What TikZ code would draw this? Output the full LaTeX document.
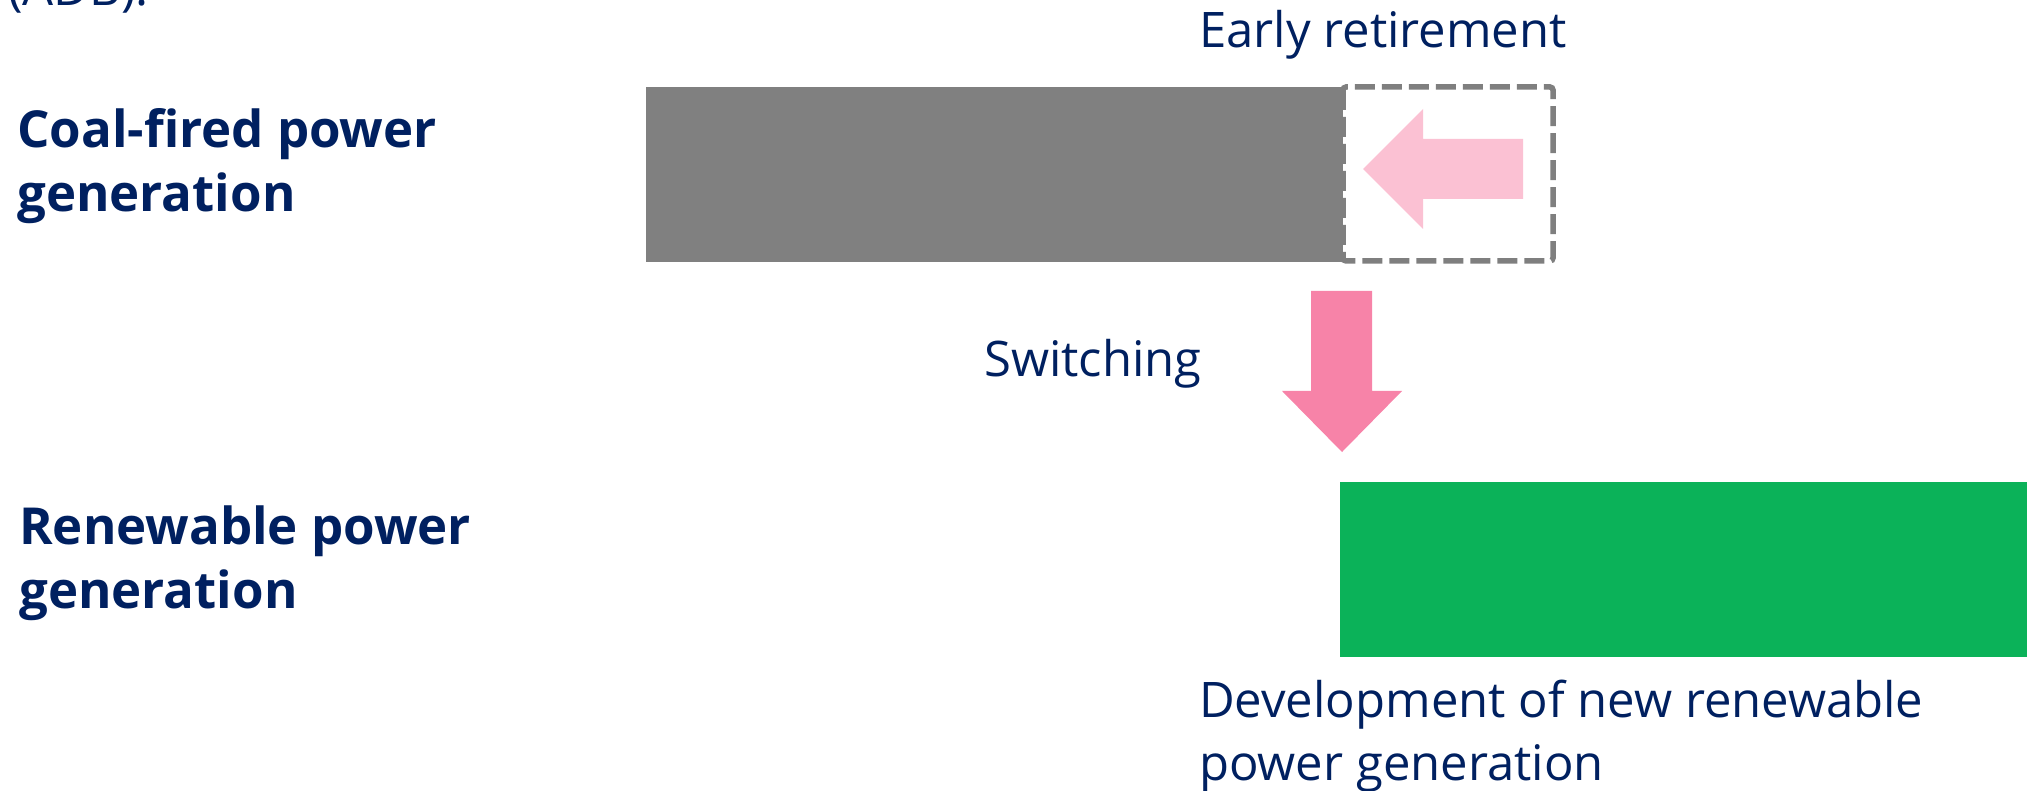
\documentclass[tikz,border=0pt]{standalone}
\usepackage{fontspec}
\setmainfont{Open Sans}
\definecolor{navy}{HTML}{002060}
\definecolor{coalgray}{HTML}{808080}
\definecolor{dashgray}{HTML}{7F7F7F}
\definecolor{lightpink}{HTML}{FBC1D3}
\definecolor{midpink}{HTML}{F783A8}
\definecolor{renewgreen}{HTML}{0BB259}
\tikzset{
  regtext/.style={text=navy, inner sep=0pt, align=left, font=\fontsize{49}{63}\selectfont},
  boldtext/.style={text=navy, inner sep=0pt, align=left, font=\fontsize{51}{64}\selectfont\bfseries},
  bar/.style={draw=none, inner sep=0pt, anchor=north west},
  dashbox/.style={draw=dashgray, fill=white, line width=5.5pt, dash pattern=on 20pt off 7pt, rounded corners=3pt},
}
\begin{document}
\begin{tikzpicture}[x=1pt, y=-1pt]
\useasboundingbox (0,0) rectangle (2027,791);
% partially visible text at top
\node[regtext, anchor=base west] (adb) at (8,6) {(ADB).};
% bars
\node[bar, fill=coalgray, minimum width=697pt, minimum height=175pt] (coal) at (646,87) {};
\draw[dashbox] (1343,87) rectangle (1553,261);
\node[bar, fill=renewgreen, minimum width=687pt, minimum height=175pt] (renew) at (1340,482) {};
% early retirement arrow (left)
\fill[lightpink] (1363,169) -- (1423,109) -- (1423,139) -- (1523,139) -- (1523,199) -- (1423,199) -- (1423,229) -- cycle;
% switching arrow (down)
\fill[midpink] (1311,291) -- (1372,291) -- (1372,391) -- (1402,391) -- (1342,452) -- (1282,391) -- (1311,391) -- cycle;
% labels (base anchor = baseline of the last line)
\node[regtext, anchor=base west] (early) at (1199,48) {Early retirement};
\node[regtext, anchor=base west] (switch) at (984,377) {Switching};
\node[regtext, anchor=base west] (dev) at (1199,780) {Development of new renewable\\power generation};
\node[boldtext, anchor=base west] (coallbl) at (17,212) {Coal-fired power\\generation};
\node[boldtext, anchor=base west] (renewlbl) at (19,608) {Renewable power\\generation};
\end{tikzpicture}
\end{document}
